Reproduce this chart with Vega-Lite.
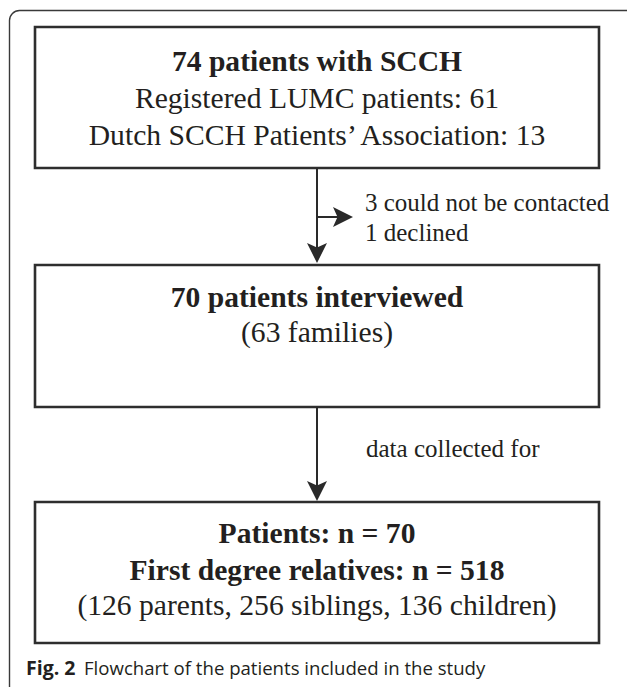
{
  "$schema": "https://vega.github.io/schema/vega-lite/v6.json",
  "width": 627,
  "height": 687,
  "padding": 0,
  "autosize": "none",
  "background": "white",
  "config": {"view": {"stroke": null}},
  "datasets": {
    "frame": [{"x": 9.5, "x2": 636, "y": 10.5, "y2": 696}],
    "boxes": [
      {"box": "source", "x": 35, "x2": 599, "y": 27, "y2": 168},
      {"box": "interviewed", "x": 35, "x2": 599, "y": 265, "y2": 407},
      {"box": "collected", "x": 35, "x2": 599, "y": 502, "y2": 643}
    ],
    "links": [
      {"x": 317, "x2": 317, "y": 168, "y2": 256},
      {"x": 317, "x2": 341, "y": 217, "y2": 217},
      {"x": 317, "x2": 317, "y": 407, "y2": 494}
    ],
    "heads": [
      {"dir": "down", "x": 317, "y": 253},
      {"dir": "right", "x": 343, "y": 217},
      {"dir": "down", "x": 317, "y": 491}
    ],
    "boldText": [
      {"x": 317, "y": 71, "label": "74 patients with SCCH"},
      {"x": 317, "y": 307, "label": "70 patients interviewed"},
      {"x": 317, "y": 543, "label": "Patients: n = 70"},
      {"x": 317, "y": 580, "label": "First degree relatives: n = 518"}
    ],
    "plainText": [
      {"x": 317, "y": 108, "label": "Registered LUMC patients: 61"},
      {"x": 317, "y": 145, "label": "Dutch SCCH Patients’ Association: 13"},
      {"x": 317, "y": 342, "label": "(63 families)"},
      {"x": 317, "y": 615, "label": "(126 parents, 256 siblings, 136 children)"}
    ],
    "notes": [
      {"x": 365, "y": 211, "label": "3 could not be contacted"},
      {"x": 365, "y": 241, "label": "1 declined"},
      {"x": 366, "y": 457, "label": "data collected for"}
    ],
    "capBold": [{"x": 26, "y": 675, "label": "Fig. 2"}],
    "capText": [{"x": 84, "y": 675, "label": "Flowchart of the patients included in the study"}]
  },
  "encoding": {
    "x": {"field": "x", "type": "quantitative", "scale": {"domain": [0, 627], "nice": false, "zero": false}, "axis": null},
    "y": {"field": "y", "type": "quantitative", "scale": {"domain": [0, 687], "nice": false, "zero": false, "reverse": true}, "axis": null}
  },
  "layer": [
    {
      "data": {"name": "frame"},
      "mark": {"type": "rect", "fill": null, "fillOpacity": 0, "stroke": "#3a3a3a", "strokeWidth": 1.4, "cornerRadius": 10},
      "encoding": {"x2": {"field": "x2"}, "y2": {"field": "y2"}}
    },
    {
      "data": {"name": "boxes"},
      "mark": {"type": "rect", "fill": "white", "stroke": "#2e2e2e", "strokeWidth": 2.6},
      "encoding": {"x2": {"field": "x2"}, "y2": {"field": "y2"}}
    },
    {
      "data": {"name": "links"},
      "mark": {"type": "rule", "stroke": "#2a2a2a", "strokeWidth": 2},
      "encoding": {"x2": {"field": "x2"}, "y2": {"field": "y2"}}
    },
    {
      "data": {"name": "heads"},
      "mark": {"type": "point", "filled": true, "size": 400, "opacity": 1, "color": "#2a2a2a"},
      "encoding": {
        "shape": {"field": "dir", "type": "nominal", "legend": null,
          "scale": {"domain": ["down", "right"], "range": ["M0,1L-1,-1L0,-0.55L1,-1Z", "M1,0L-1,-1L-0.55,0L-1,1Z"]}}
      }
    },
    {
      "data": {"name": "boldText"},
      "mark": {"type": "text", "font": "Liberation Serif", "fontWeight": "bold", "fontSize": 29.6, "align": "center", "baseline": "alphabetic", "color": "#231f20"},
      "encoding": {"text": {"field": "label"}}
    },
    {
      "data": {"name": "plainText"},
      "mark": {"type": "text", "font": "Liberation Serif", "fontSize": 29.6, "align": "center", "baseline": "alphabetic", "color": "#231f20"},
      "encoding": {"text": {"field": "label"}}
    },
    {
      "data": {"name": "notes"},
      "mark": {"type": "text", "font": "Liberation Serif", "fontSize": 25, "align": "left", "baseline": "alphabetic", "color": "#231f20"},
      "encoding": {"text": {"field": "label"}}
    },
    {
      "data": {"name": "capBold"},
      "mark": {"type": "text", "font": "Open Sans", "fontWeight": "bold", "fontSize": 19.5, "align": "left", "baseline": "alphabetic", "color": "#231f20"},
      "encoding": {"text": {"field": "label"}}
    },
    {
      "data": {"name": "capText"},
      "mark": {"type": "text", "font": "Open Sans", "fontSize": 18.6, "align": "left", "baseline": "alphabetic", "color": "#231f20"},
      "encoding": {"text": {"field": "label"}}
    }
  ]
}
